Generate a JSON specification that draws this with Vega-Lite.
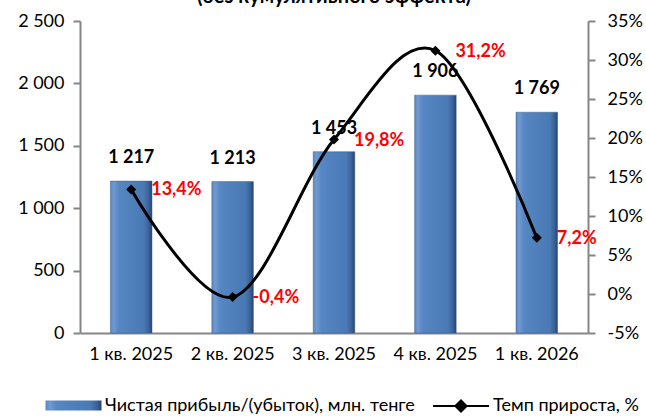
{
  "$schema": "https://vega.github.io/schema/vega-lite/v6.json",
  "width": 508,
  "height": 312,
  "autosize": "none",
  "padding": {"left": 80, "top": 21, "right": 58, "bottom": 83},
  "config": {
    "locale": {"number": {"decimal": ",", "thousands": " ", "grouping": [3], "currency": ["", ""], "minus": "-"}},
    "view": {"stroke": null},
    "font": "Lato",
    "axis": {"grid": false, "domainColor": "#868686", "domainWidth": 2, "tickColor": "#868686", "tickWidth": 2, "tickSize": 7, "labelColor": "black", "labelFontSize": 18, "labelFont": "Lato", "labelOverlap": false, "title": null}
  },
  "title": {"text": "(без кумулятивного эффекта)", "fontSize": 20, "fontWeight": "bold", "font": "Lato", "color": "black", "anchor": "middle", "baseline": "alphabetic", "offset": 5, "dy": 16},
  "data": {
    "values": [
      {"q": "1 кв. 2025", "profit": 1217, "g": 13.4},
      {"q": "2 кв. 2025", "profit": 1213, "g": -0.4},
      {"q": "3 кв. 2025", "profit": 1453, "g": 19.8},
      {"q": "4 кв. 2025", "profit": 1906, "g": 31.2},
      {"q": "1 кв. 2026", "profit": 1769, "g": 7.2}
    ]
  },
  "encoding": {
    "x": {"field": "q", "type": "ordinal", "sort": null, "scale": {"paddingInner": 0.59, "paddingOuter": 0.3},
      "axis": {"labelAngle": 0, "ticks": false, "labelPadding": 12, "domainWidth": 2}}
  },
  "layer": [
    {
      "encoding": {
        "y": {"field": "profit", "type": "quantitative", "scale": {"domain": [0, 2500], "nice": false, "zero": true},
          "axis": {"orient": "left", "values": [0, 500, 1000, 1500, 2000, 2500], "format": ",d", "labelPadding": 9}}
      },
      "layer": [
        {
          "mark": {"type": "bar", "stroke": "#3a5f8b", "strokeWidth": 0.5,
            "fill": {"gradient": "linear", "x1": 0, "y1": 0, "x2": 1, "y2": 0,
              "stops": [
                {"offset": 0, "color": "#5a88c4"},
                {"offset": 0.08, "color": "#7199d0"},
                {"offset": 0.2, "color": "#5686c3"},
                {"offset": 0.8, "color": "#4a7ab5"},
                {"offset": 0.92, "color": "#3b6298"},
                {"offset": 1, "color": "#27446b"}
              ]}},
          "encoding": {
            "strokeDash": {"datum": "Чистая прибыль/(убыток), млн. тенге", "type": "nominal",
              "scale": {"range": [[1, 0]]},
              "legend": {"orient": "none", "legendX": -35, "legendY": 356, "title": null,
                "symbolType": "M-1,-0.18H1V0.18H-1Z", "symbolSize": 3136, "symbolFillColor": "#4f81bd", "symbolStrokeColor": "#3a5f8b", "symbolStrokeWidth": 0.5,
                "labelFontSize": 18, "labelFont": "Lato", "labelColor": "black", "labelLimit": 400, "labelOffset": 3}}
          }
        },
        {
          "mark": {"type": "text", "baseline": "middle", "dy": -23, "fontWeight": "bold", "fontSize": 18, "font": "Lato", "color": "black"},
          "encoding": {
            "text": {"field": "profit", "type": "quantitative", "format": ",d"}
          }
        }
      ]
    },
    {
      "encoding": {
        "y": {"field": "g", "type": "quantitative", "scale": {"domain": [-5, 35], "nice": false},
          "axis": {"orient": "right", "values": [-5, 0, 5, 10, 15, 20, 25, 30, 35], "labelExpr": "format(datum.value, 'd') + '%'", "labelPadding": 12}}
      },
      "layer": [
        {
          "mark": {"type": "line", "interpolate": "cardinal", "strokeWidth": 3},
          "encoding": {
            "stroke": {"datum": "Темп прироста, %", "type": "nominal", "scale": {"range": ["black"]},
              "legend": {"orient": "none", "legendX": 352, "legendY": 356, "title": null,
                "symbolType": "M-1,0H1M0,-0.2L0.2,0L0,0.2L-0.2,0Z", "symbolSize": 3136, "symbolFillColor": "black", "symbolStrokeWidth": 2,
                "labelFontSize": 18, "labelFont": "Lato", "labelColor": "black", "labelLimit": 300, "labelOffset": 3}}
          }
        },
        {
          "mark": {"type": "point", "shape": "diamond", "filled": true, "color": "black", "size": 100, "opacity": 1}
        },
        {
          "mark": {"type": "text", "align": "left", "baseline": "middle", "dx": 20, "dy": 1, "fontWeight": "bold", "fontSize": 18, "font": "Lato", "color": "#ff0000"},
          "encoding": {
            "text": {"value": {"expr": "format(datum.g, '.1f') + '%'"}}
          }
        }
      ]
    }
  ],
  "resolve": {"scale": {"y": "independent"}}
}
